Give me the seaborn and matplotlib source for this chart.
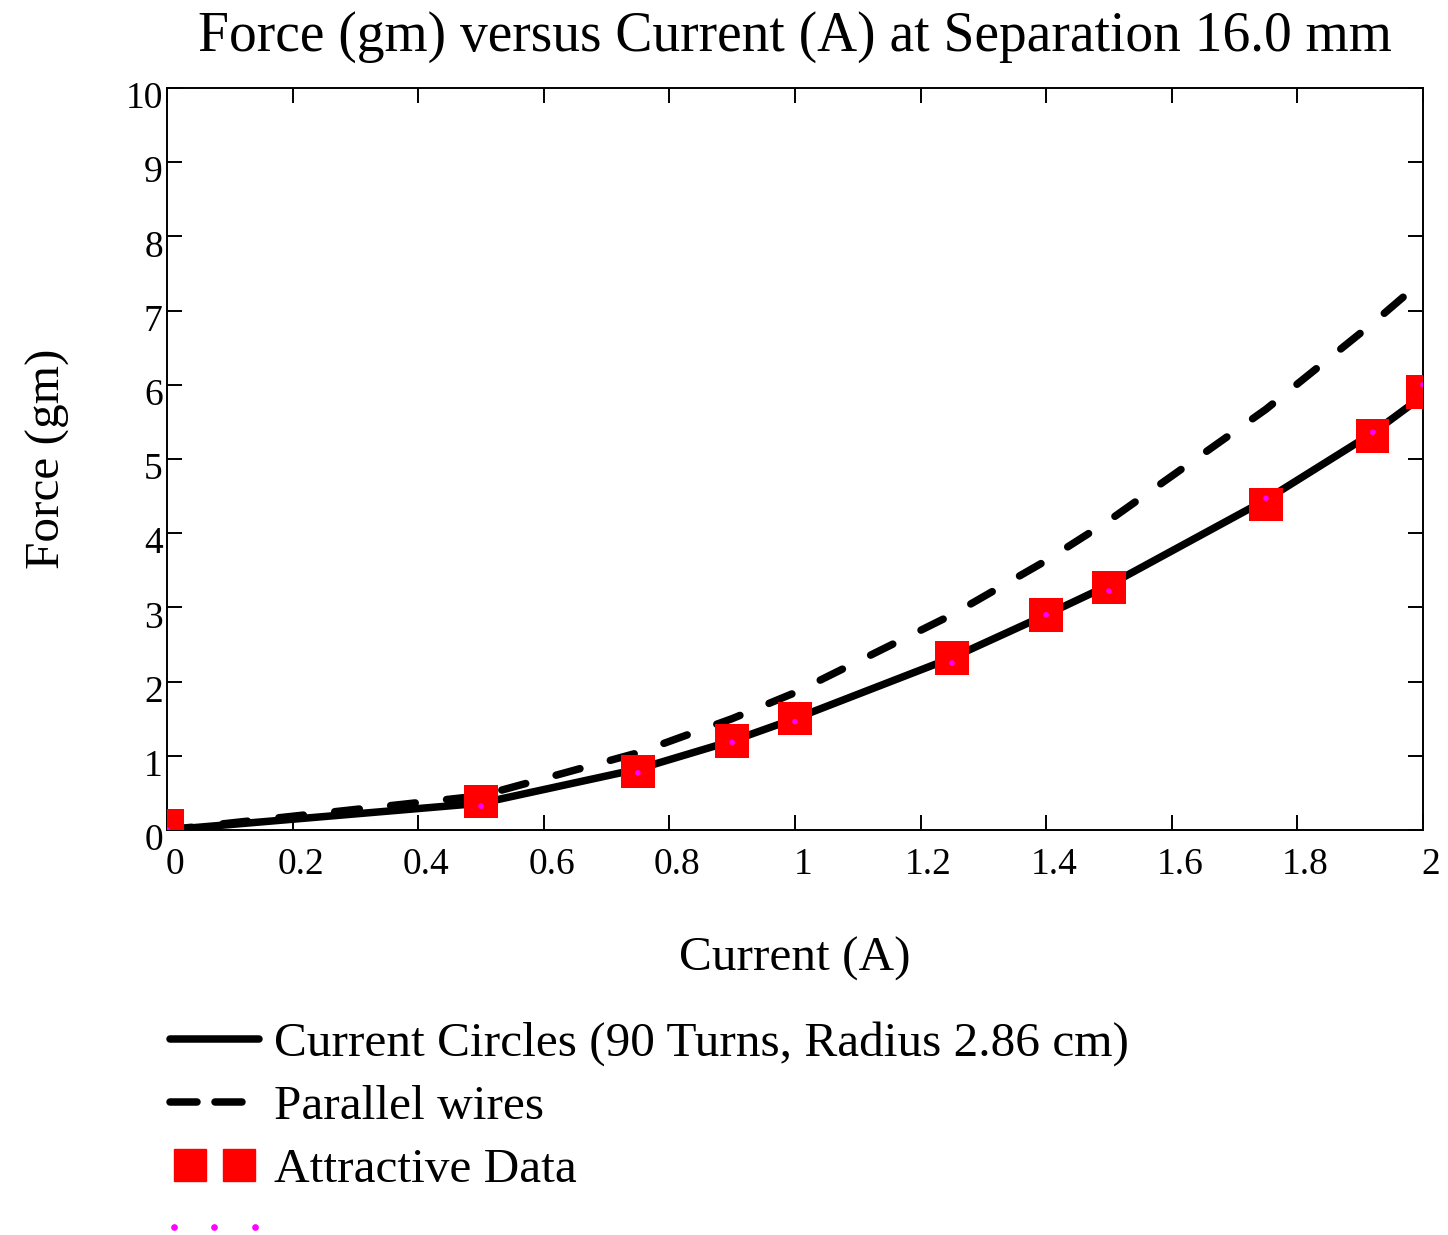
import matplotlib
matplotlib.use("Agg")
import matplotlib.pyplot as plt
import matplotlib.transforms as mtrans
import seaborn as sns
import pandas as pd
from matplotlib.lines import Line2D
from matplotlib.legend_handler import HandlerLine2D

# ---- data ----
current = [0.0, 0.5, 0.75, 0.9, 1.0, 1.25, 1.4, 1.5, 1.75, 1.92, 2.0]
force_circles = [0.0, 0.36, 0.82, 1.2, 1.5, 2.32, 2.9, 3.3, 4.45, 5.35, 5.85]
force_wires = [0.0, 0.46, 1.04, 1.5, 1.85, 2.9, 3.63, 4.17, 5.67, 6.83, 7.41]
data_force = [0.05, 0.38, 0.79, 1.2, 1.5, 2.32, 2.9, 3.27, 4.39, 5.31, 5.9]
data_force_dots = [0.0, 0.32, 0.77, 1.18, 1.46, 2.25, 2.9, 3.22, 4.47, 5.36, 6.0]

title = "Force (gm) versus Current (A) at Separation 16.0 mm"
xlabel = "Current (A)"
ylabel = "Force (gm)"
labels = ["Current Circles (90 Turns, Radius 2.86 cm)", "Parallel wires", "Attractive Data", ""]
xticks = [0, 0.2, 0.4, 0.6, 0.8, 1.0, 1.2, 1.4, 1.6, 1.8, 2.0]
xticklabels = ["0", "0.2", "0.4", "0.6", "0.8", "1", "1.2", "1.4", "1.6", "1.8", "2"]
yticks = list(range(0, 11))

sns.set_style("ticks")
plt.rcParams["font.family"] = ["Liberation Serif", "DejaVu Serif"]
for k in ["text.color", "axes.labelcolor", "xtick.color", "ytick.color", "axes.edgecolor"]:
    plt.rcParams[k] = "black"

df = pd.DataFrame({"I": current, "circ": force_circles, "wire": force_wires,
                   "data": data_force, "dots": data_force_dots})

fig = plt.figure(figsize=(14.48, 12.35), dpi=100)
ax = fig.add_axes([0.1153, 0.328, 0.8674, 0.6007])

lw = 5.4
sns.lineplot(data=df, x="I", y="circ", ax=ax, color="black", linewidth=lw, zorder=3)
ax.lines[-1].set_solid_capstyle("round")
sns.lineplot(data=df, x="I", y="wire", ax=ax, color="black", linewidth=lw, zorder=3)
ax.lines[-1].set_linestyle((0, (3.3, 4.2)))
ax.lines[-1].set_dash_capstyle("round")
sns.scatterplot(data=df, x="I", y="data", ax=ax, marker="s", s=580, color="#ff0000",
                edgecolor="none", linewidth=0, zorder=4)
sns.scatterplot(data=df, x="I", y="dots", ax=ax, marker="o", s=16, color="#ff00ff",
                edgecolor="none", linewidth=0, zorder=5)

ax.set_xlim(0, 2)
ax.set_ylim(0, 10)
ax.set_xticks(xticks)
ax.set_xticklabels(xticklabels)
ax.set_yticks(yticks)
ax.tick_params(direction="in", length=11, width=1.4, top=True, right=True,
               labelsize=27, colors="black")
ax.tick_params(axis="x", pad=13)
ax.tick_params(axis="y", pad=3)
offx = mtrans.ScaledTranslation(8 / 100, 0, fig.dpi_scale_trans)
for lab in ax.get_xticklabels():
    lab.set_transform(lab.get_transform() + offx)
offy = mtrans.ScaledTranslation(0, -7 / 100, fig.dpi_scale_trans)
for lab in ax.get_yticklabels():
    lab.set_transform(lab.get_transform() + offy)
for sp in ax.spines.values():
    sp.set_linewidth(1.4)
    sp.set_color("black")

ax.set_title(title, fontsize=40, pad=27)
ax.set_xlabel(xlabel, fontsize=35.5, labelpad=39)
ax.set_ylabel(ylabel, fontsize=35.5, labelpad=40)

h1 = Line2D([], [], color="black", linewidth=lw, solid_capstyle="round")
h2 = Line2D([], [], color="black", linewidth=lw, linestyle=(0, (3.6, 2.4)),
            dash_capstyle="round")
h3 = Line2D([], [], color="#ff0000", marker="s", markersize=23, linestyle="none")
h4 = Line2D([], [], color="#ff00ff", marker="o", markersize=3.8, linestyle="none")
fig.legend([h1, h2, h3, h4], labels, loc="upper left",
           bbox_to_anchor=(0.1174, 0.173),
           frameon=False, fontsize=35.5, handlelength=1.8, handletextpad=0.3,
           labelspacing=0.37, borderaxespad=0, borderpad=0,
           handler_map={h3: HandlerLine2D(numpoints=2, marker_pad=0.4),
                        h4: HandlerLine2D(numpoints=3, marker_pad=0.08)})

fig.savefig("out.png", dpi=100)
